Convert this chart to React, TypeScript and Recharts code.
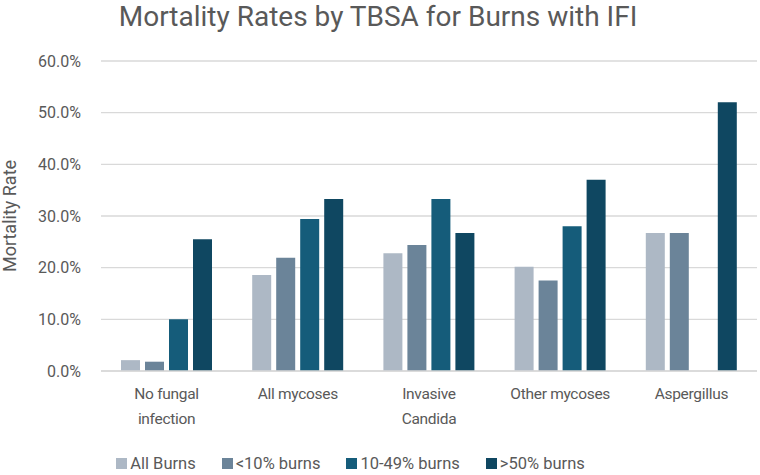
import React from "react";
import { BarChart, Bar, XAxis, YAxis, CartesianGrid, Legend } from "recharts";

const categories = ["No fungal infection", "All mycoses", "Invasive Candida", "Other mycoses", "Aspergillus"];
const allBurns = [2.1, 18.6, 22.8, 20.2, 26.7];
const under10 = [1.8, 21.9, 24.4, 17.5, 26.7];
const mid10to49: (number | null)[] = [10.0, 29.4, 33.3, 28.0, null];
const over50 = [25.5, 33.3, 26.7, 37.0, 52.0];
const yTicks = [0, 10, 20, 30, 40, 50, 60];

const seriesNames = ["All Burns", "<10% burns", "10-49% burns", ">50% burns"];
const seriesColors = ["#ADB8C5", "#6B8499", "#155C7A", "#0F4761"];

const data = categories.map((c, i) => ({
  name: c,
  s0: allBurns[i],
  s1: under10[i],
  s2: mid10to49[i],
  s3: over50[i],
}));

const FONT = "Roboto, 'Noto Sans', sans-serif";
const TEXT = "#595959";

function wrap(label: string, maxChars: number): string[] {
  const words = label.split(" ");
  const lines: string[] = [];
  let cur = "";
  for (const w of words) {
    const next = cur ? cur + " " + w : w;
    if (next.length > maxChars && cur) {
      lines.push(cur);
      cur = w;
    } else {
      cur = next;
    }
  }
  if (cur) lines.push(cur);
  return lines;
}

const XTick = (props: any) => {
  const { x, y, payload } = props;
  const lines = wrap(String(payload.value), 13);
  return (
    <text x={x} y={y} textAnchor="middle" fill={TEXT} fontSize={15.5} fontFamily={FONT} letterSpacing={-0.3}>
      {lines.map((l, i) => (
        <tspan key={i} x={x} dy={i === 0 ? 20 : 25}>
          {l}
        </tspan>
      ))}
    </text>
  );
};

const LegendContent = () => {
  return (
    <div style={{ display: "flex", justifyContent: "center", gap: 26, height: 20, alignItems: "center", fontFamily: FONT, fontSize: 16.5, color: TEXT, paddingRight: 56 }}>
      {seriesNames.map((n, i) => (
        <div key={i} style={{ display: "flex", alignItems: "center" }}>
          <span style={{ display: "inline-block", width: 11, height: 11, background: seriesColors[i], marginRight: 3 }} />
          <span>{n}</span>
        </div>
      ))}
    </div>
  );
};

export default function App() {
  return (
    <div style={{ position: "absolute", left: 0, top: 0, width: 760, height: 475, background: "#fff" }}>
      <div
        style={{
          position: "absolute",
          left: 0,
          top: 0,
          width: 760,
          textAlign: "center",
          fontFamily: FONT,
          fontSize: 28,
          lineHeight: "34px",
          color: TEXT,
          paddingRight: 4,
          boxSizing: "border-box",
        }}
      >
        Mortality Rates by TBSA for Burns with IFI
      </div>
      <BarChart
        width={760}
        height={475}
        data={data}
        margin={{ top: 61, right: 3, left: 0, bottom: 2 }}
        barGap={5}
        barCategoryGap={20}
      >
        <CartesianGrid vertical={false} stroke="#D9D9D9" strokeWidth={1.3} />
        <XAxis
          dataKey="name"
          axisLine={{ stroke: "#D9D9D9", strokeWidth: 1.3 }}
          tickLine={false}
          tick={<XTick />}
          height={82}
          interval={0}
        />
        <YAxis
          width={101}
          domain={[0, 60]}
          ticks={yTicks}
          axisLine={false}
          tickLine={false}
          tickMargin={14}
          tickFormatter={(v: number) => `${v.toFixed(1)}%`}
          tick={{ fill: TEXT, fontSize: 16, fontFamily: FONT }}
          label={{
            value: "Mortality Rate",
            angle: -90,
            position: "insideLeft",
            offset: 0,
            dx: 10,
            style: { fill: TEXT, fontSize: 18, fontFamily: FONT, textAnchor: "middle" },
          }}
        />
        <Legend verticalAlign="bottom" content={<LegendContent />} />
        {["s0", "s1", "s2", "s3"].map((k, i) => (
          <Bar key={k} dataKey={k} name={seriesNames[i]} fill={seriesColors[i]} isAnimationActive={false} />
        ))}
      </BarChart>
    </div>
  );
}
